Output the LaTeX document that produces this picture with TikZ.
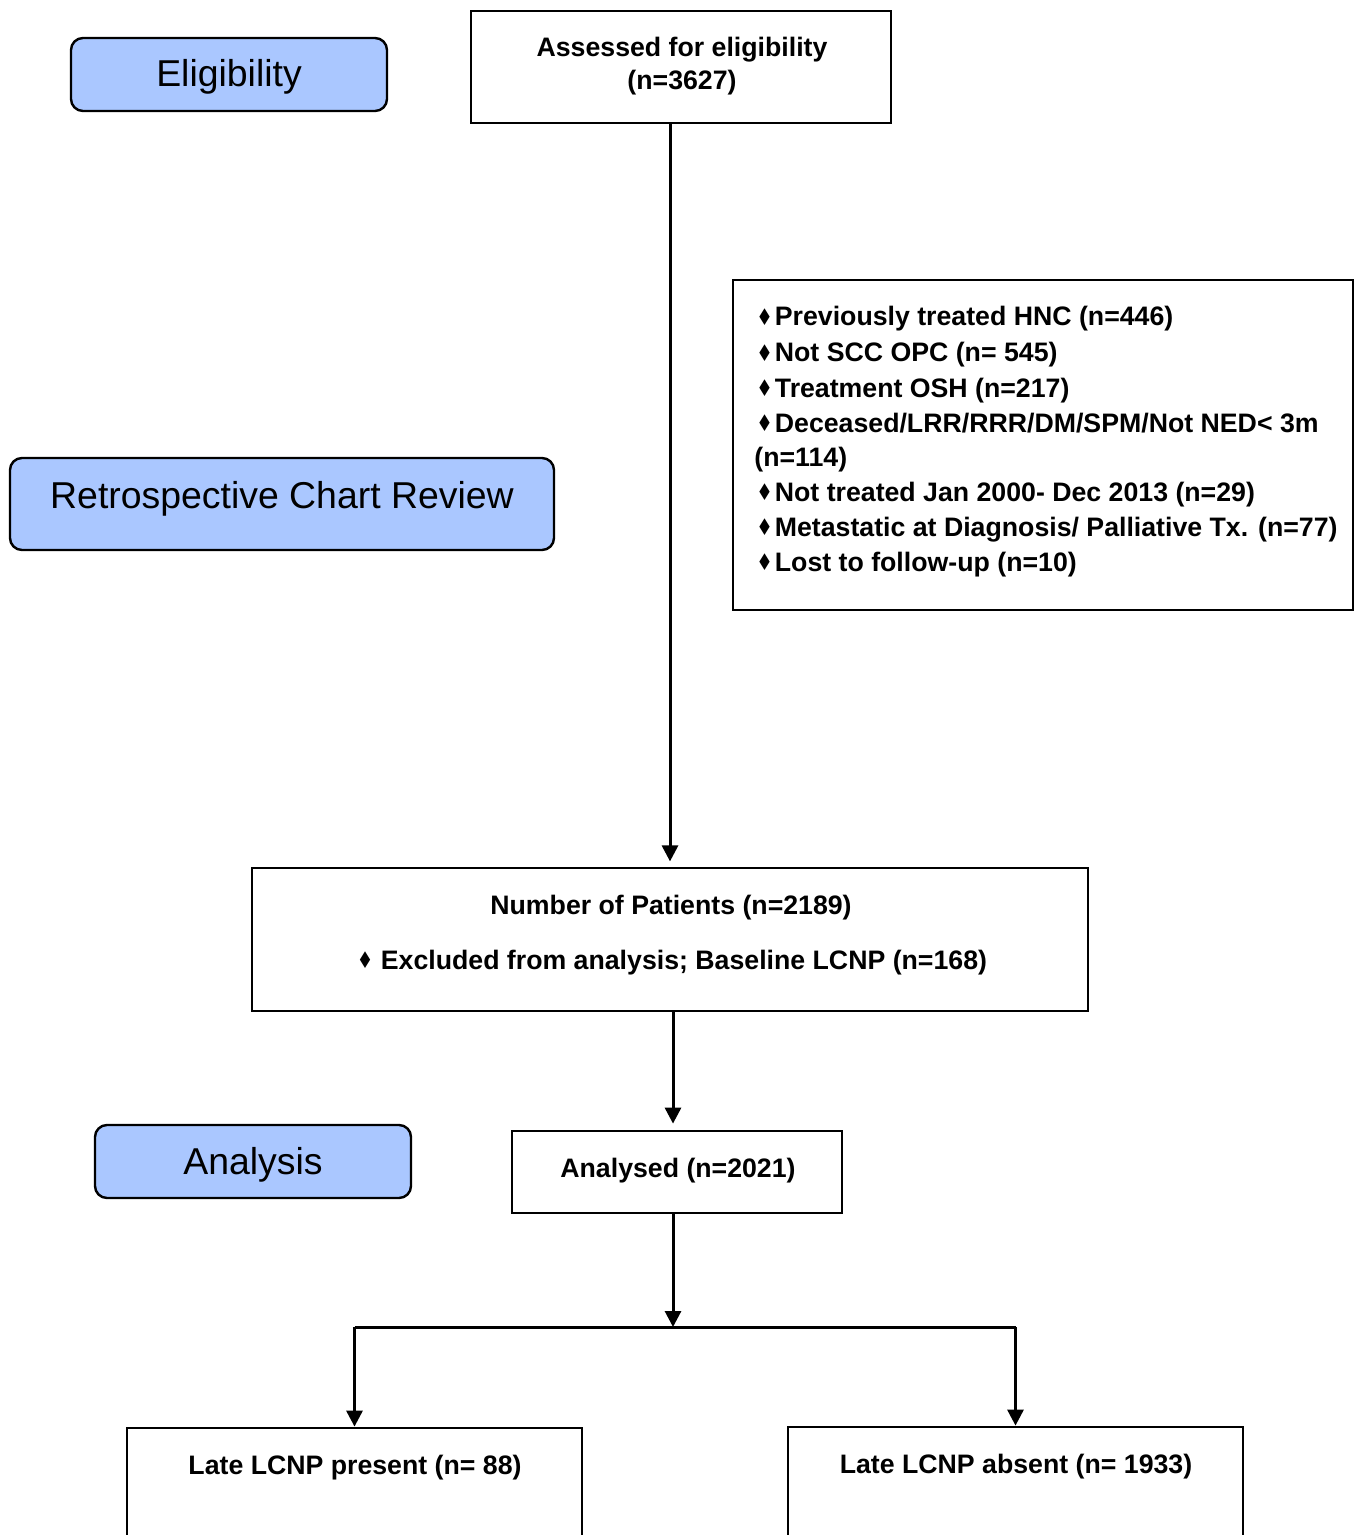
\documentclass[tikz,border=0pt]{standalone}
\usepackage{fontspec}
\usepackage{graphicx}
\setmainfont{Liberation Sans}
\newfontfamily\symfont{DejaVu Sans}
\usetikzlibrary{arrows.meta}
\definecolor{stageblue}{RGB}{170,199,255}
\newcommand{\dmd}{\raisebox{0.4pt}{\scalebox{0.8}[1]{\symfont\fontsize{11.5}{11.5}\selectfont ♦}}}
\begin{document}
\begin{tikzpicture}[x=0.5pt,y=-0.5pt,
 box/.style={draw=black,line width=1.4pt,fill=white,inner sep=0pt},
 stage/.style={draw=black,line width=1.2pt,fill=stageblue,rounded corners=6pt,inner sep=0pt},
 btxt/.style={font=\bfseries\fontsize{13.35}{16}\selectfont,inner sep=0pt,anchor=base},
 ltxt/.style={font=\bfseries\fontsize{13.35}{16}\selectfont,inner sep=0pt,anchor=base west},
 stxt/.style={font=\fontsize{18.7}{22}\selectfont,inner sep=0pt,anchor=base},
 conn/.style={line width=1.5pt,-{Triangle[length=8pt,width=8pt]}},
 wire/.style={line width=1.5pt}]
\clip (0,0) rectangle (1363,1535);
\fill[white] (0,0) rectangle (1363,1535);

% stage labels
\node[stage,minimum width=158pt,minimum height=36.5pt] (elig) at (229,74.5) {};
\node[stxt] (eligt) at (229,86.5) {Eligibility};
\node[stage,minimum width=272pt,minimum height=46pt] (retro) at (282,504) {};
\node[stxt] (retrot) at (282,508.5) {Retrospective Chart Review};
\node[stage,minimum width=158pt,minimum height=36.5pt] (anly) at (253,1161.5) {};
\node[stxt] (anlyt) at (253,1174.5) {Analysis};

% assessed
\node[box,minimum width=210pt,minimum height=56pt] (assess) at (681,67) {};
\node[btxt] (assesst1) at (682,57) {Assessed for eligibility};
\node[btxt] (assesst2) at (682,90) {(n=3627)};

% exclusions
\node[box,minimum width=310pt,minimum height=165pt] (excl) at (1043,445) {};
\node[ltxt] (e1) at (756,326) {\dmd\hspace{1pt}Previously treated HNC (n=446)};
\node[ltxt] (e2) at (756,362) {\dmd\hspace{1pt}Not SCC OPC (n= 545)};
\node[ltxt] (e3) at (756,397) {\dmd\hspace{1pt}Treatment OSH (n=217)};
\node[ltxt] (e4) at (756,432) {\dmd\hspace{1pt}Deceased/LRR/RRR/DM/SPM/Not NED< 3m};
\node[ltxt] (e5) at (754,466) {(n=114)};
\node[ltxt] (e6) at (756,501) {\dmd\hspace{1pt}Not treated Jan 2000- Dec 2013 (n=29)};
\node[ltxt] (e7) at (756,536) {\dmd\hspace{1pt}Metastatic at Diagnosis/ Palliative Tx. (n=77)};
\node[ltxt] (e8) at (756,571) {\dmd\hspace{1pt}Lost to follow-up (n=10)};

% number of patients
\node[box,minimum width=418pt,minimum height=71.5pt] (numpat) at (670,939.5) {};
\node[btxt] (numt1) at (671,914) {Number of Patients (n=2189)};
\node[btxt] (numt2) at (672,969) {\dmd\ Excluded from analysis; Baseline LCNP (n=168)};

% analysed
\node[box,minimum width=165pt,minimum height=41pt] (anl) at (677,1172) {};
\node[btxt] (anlt) at (678,1177) {Analysed (n=2021)};

% late boxes
\node[box,minimum width=227.5pt,minimum height=100pt] (late1) at (354.5,1528) {};
\node[btxt] (late1t) at (355,1474) {Late LCNP present (n= 88)};
\node[box,minimum width=227.5pt,minimum height=100pt] (late2) at (1015.5,1527) {};
\node[btxt] (late2t) at (1016,1473) {Late LCNP absent (n= 1933)};

% connectors
\draw[conn,shorten >=2.6pt] (numpat.north |- assess.south) -- (numpat.north);
\draw[conn,shorten >=3pt] ([xshift=1.5pt]numpat.south) -- ([xshift=1.5pt]numpat.south |- anl.north);
\coordinate (split) at (673,1327);
\draw[conn] ([xshift=-2pt]anl.south) -- (split);
\draw[wire] (late1.north |- split) -- (late2.north |- split);
\draw[conn] (late1.north |- split) -- (late1.north);
\draw[conn] (late2.north |- split) -- (late2.north);
\end{tikzpicture}
\end{document}
